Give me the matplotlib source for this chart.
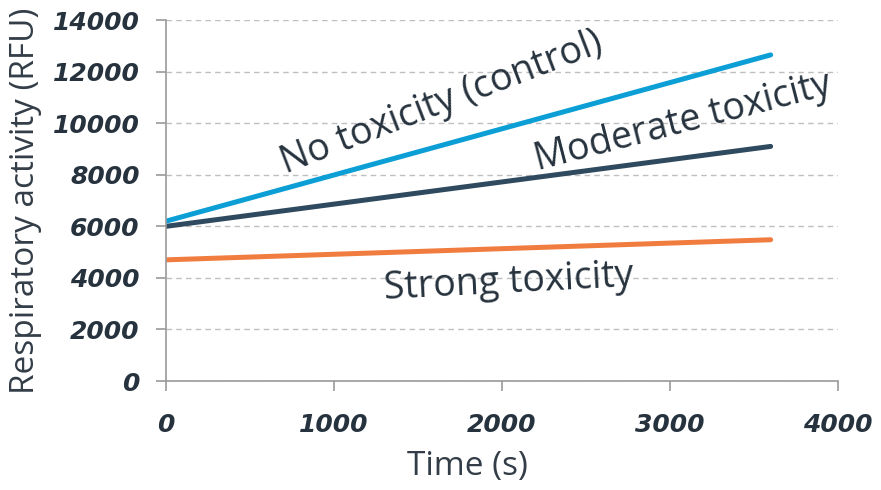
import matplotlib
matplotlib.use('Agg')
import matplotlib.pyplot as plt

# Данные
time_s = [0, 3600]
no_tox = [6200, 12650]
moderate_tox = [6000, 9100]
strong_tox = [4700, 5480]

y_ticks = [0, 2000, 4000, 6000, 8000, 10000, 12000, 14000]
x_ticks = [0, 1000, 2000, 3000, 4000]

text_color = '#26323d'
grid_color = '#bfbfbf'

fig = plt.figure(figsize=(8.81, 4.90), dpi=100)
ax = fig.add_axes([0.1884, 0.2224, 0.7626, 0.7366])

ax.plot(time_s, strong_tox, color='#f07d3f', lw=3.6, solid_capstyle='round')
ax.plot(time_s, moderate_tox, color='#2f4a5e', lw=3.6, solid_capstyle='round')
ax.plot(time_s, no_tox, color='#0b9fd6', lw=3.6, solid_capstyle='round')

ax.set_xlim(0, 4000)
ax.set_ylim(0, 14000)
ax.set_xticks(x_ticks)
ax.set_yticks(y_ticks)

tick_font = dict(family='DejaVu Sans', weight='bold', style='italic', size=18)
ax.set_xticklabels([str(v) for v in x_ticks], color=text_color, **tick_font)
ax.set_yticklabels([str(v) for v in y_ticks], color=text_color, **tick_font)
ax.tick_params(axis='both', colors='#9a9a9a', labelcolor=text_color,
               length=7, width=1.2)
ax.tick_params(axis='x', pad=16)
ax.tick_params(axis='y', pad=12)

ax.yaxis.grid(True, linestyle=(0, (4, 3)), color=grid_color, lw=1.0)
ax.set_axisbelow(True)
for side in ['top', 'right']:
    ax.spines[side].set_visible(False)
for side in ['left', 'bottom']:
    ax.spines[side].set_color('#9a9a9a')
    ax.spines[side].set_linewidth(1.2)

label_font = dict(family='Open Sans', size=24, color='#333d47')
ax.set_xlabel('Time (s)', **label_font)
ax.set_ylabel('Respiratory activity (RFU)', labelpad=8, **label_font)
# подпись оси X в оригинале немного смещена влево
ax.xaxis.set_label_coords(0.449, -0.19)

# Подписи кривых
ann_font = dict(family='Open Sans', size=27, color=text_color,
                ha='center', va='center', rotation_mode='anchor')
ax.text(1643, 10780, 'No toxicity (control)', rotation=21, **ann_font)
ax.text(3077, 10040, 'Moderate toxicity', rotation=14.5, **ann_font)
ax.text(2042, 3840, 'Strong toxicity', rotation=3, **ann_font)

plt.savefig('out.png', dpi=100)
plt.close()
